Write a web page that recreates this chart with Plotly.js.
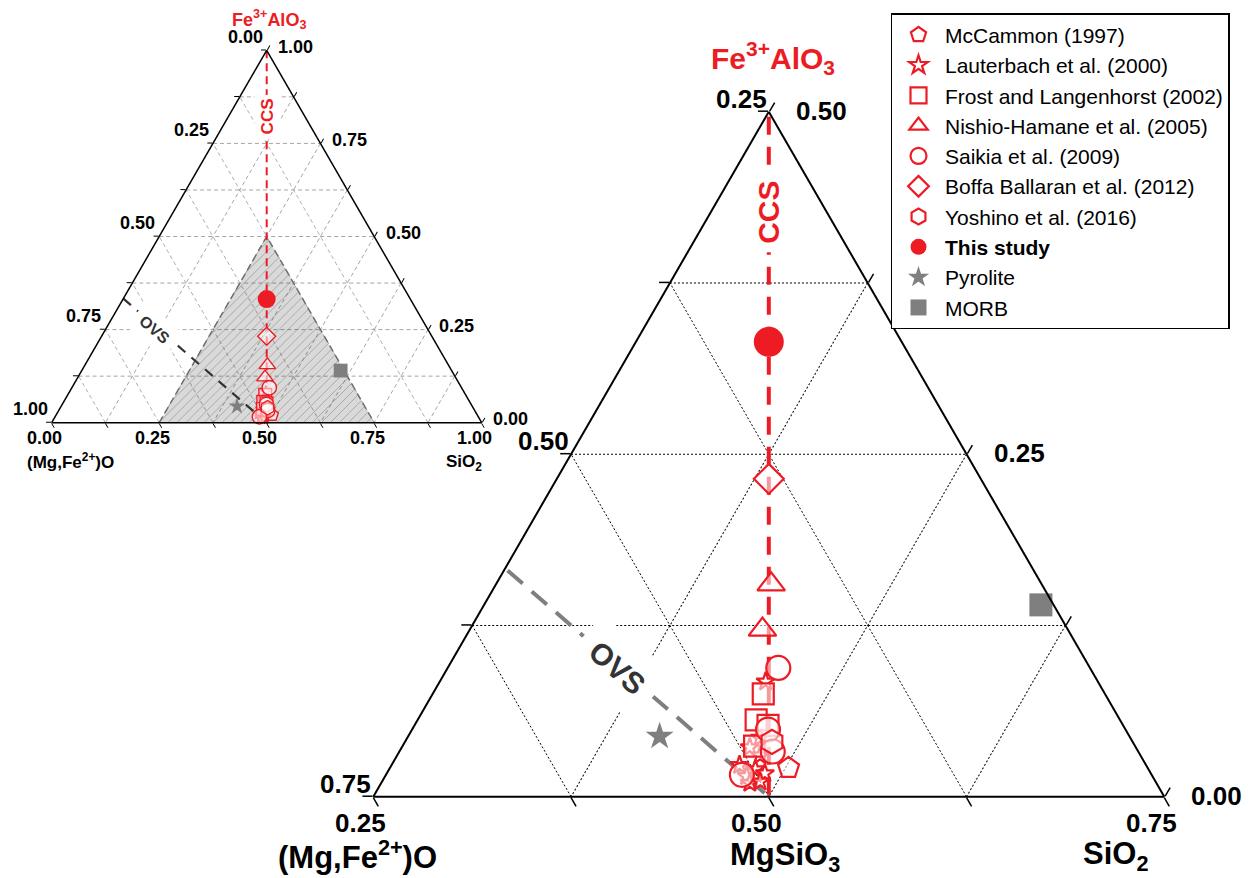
<!DOCTYPE html>
<html><head><meta charset="utf-8">
<script src="https://cdn.plot.ly/plotly-3.0.1.min.js"></script>
<style>html,body{margin:0;padding:0;background:#fff}#chart{width:1254px;height:878px}</style>
</head><body><div id="chart"></div>
<script>
// ternary fractions: a = Fe3+AlO3, b = (Mg,Fe2+)O, c = SiO2
const mcA = [0.021], mcB = [0.477], mcC = [0.502];                       // McCammon (1997)
const laA = [0.084,0.043,0.036,0.030,0.023,0.020,0.017,0.015,0.010,0.011]; // Lauterbach et al. (2000)
const laB = [0.460,0.484,0.494,0.490,0.507,0.499,0.494,0.507,0.507,0.500];
const laC = [0.456,0.473,0.470,0.479,0.470,0.482,0.489,0.479,0.483,0.489];
const frA = [0.075,0.056,0.052,0.037];                                    // Frost and Langenhorst (2002)
const frB = [0.466,0.480,0.474,0.491];
const frC = [0.459,0.464,0.473,0.473];
const niA = [0.155,0.122], niB = [0.421,0.443], niC = [0.424,0.435];      // Nishio-Hamane et al. (2005)
const saA = [0.094,0.049,0.033,0.016];                                    // Saikia et al. (2009)
const saB = [0.447,0.476,0.481,0.509];
const saC = [0.459,0.475,0.486,0.475];
const boA = [0.232], boB = [0.384], boC = [0.384];                        // Boffa Ballaran et al. (2012)
const yoA = [0.040], yoB = [0.478], yoC = [0.482];                        // Yoshino et al. (2016)
const tsA = [0.332], tsB = [0.334], tsC = [0.334];                        // This study
const pyA = [0.044], pyB = [0.547], pyC = [0.409];                        // Pyrolite
const moA = [0.140], moB = [0.258], moC = [0.602];                        // MORB
// joins
const ccsA = [1, 0], ccsB = [0, 0.5], ccsC = [0, 0.5];
const ovsA = [1/3, 0], ovsB = [2/3, 0.5], ovsC = [0, 0.5];
// region shown enlarged
const regA = [0, 0, 0.5, 0], regB = [0.75, 0.25, 0.25, 0.75], regC = [0.25, 0.75, 0.25, 0.25];
// grid / tick values and tick labels
const bigValsA = [0, 0.125, 0.25, 0.375, 0.5];
const bigValsBC = [0.25, 0.375, 0.5, 0.625, 0.75];
const bigLeftVals = [0, 0.25, 0.5],        bigLeftText = ['0.75', '0.50', '0.25'];   // at a = value on left edge
const bigRightVals = [0, 0.25, 0.5],       bigRightText = ['0.00', '0.25', '0.50'];  // at a = value on right edge
const bigBottomVals = [0.25, 0.5, 0.75],   bigBottomText = ['0.25', '0.50', '0.75']; // at c = value on bottom edge
const smVals = [0, 0.125, 0.25, 0.375, 0.5, 0.625, 0.75, 0.875, 1];
const smLeftVals = [0, 0.25, 0.5, 0.75, 1],   smLeftText = ['1.00', '0.75', '0.50', '0.25', '0.00'];
const smRightVals = [0, 0.25, 0.5, 0.75, 1],  smRightText = ['0.00', '0.25', '0.50', '0.75', '1.00'];
const smBottomVals = [0, 0.25, 0.5, 0.75, 1], smBottomText = ['0.00', '0.25', '0.50', '0.75', '1.00'];

const RED = '#ED1C24';
const FONT = 'Arial, "Liberation Sans", sans-serif';
const W = 1254, H = 878;
const px = v => v / W, py = v => 1 - v / H;

// triangle frames (pixel placement of each ternary subplot)
const BIG = {x0: 373.3, x1: 1164.3, yb: 796.7, amin: 0, bmin: 0.25, cmin: 0.25};
const SM  = {x0: 51.7,  x1: 481.7,  yb: 422.7, amin: 0, bmin: 0,    cmin: 0};
[BIG, SM].forEach(t => { t.w = t.x1 - t.x0; t.h = t.w * Math.sqrt(3) / 2; t.span = 1 - t.amin - t.bmin - t.cmin; });
function domainOf(t) {
  const cy = t.yb - t.h / 2, hh = t.h / 2 + 8;
  return {x: [px(t.x0), px(t.x1)], y: [py(cy + hh), py(cy - hh)]};
}
function toPix(t, a, c) {
  const ap = (a - t.amin) / t.span, cp = (c - t.cmin) / t.span;
  return [t.x0 + t.w * (cp + ap / 2), t.yb - t.h * ap];
}

// hatch lines for the shaded region
function hatch(step) {
  const s3 = Math.sqrt(3), m = 1, ytop = s3 / 4;
  const A = [], B = [], C = [];
  for (let x0 = 0.06; x0 <= 0.75; x0 += step) {
    const ylo = Math.max(0, (0.25 - x0) / (m - 1 / s3));
    const yhi = Math.min(ytop, (0.75 - x0) / (m + 1 / s3));
    if (yhi <= ylo) continue;
    [ylo, yhi].forEach(y => {
      const x = x0 + m * y, a = y * 2 / s3, c = x - a / 2;
      A.push(a); C.push(c); B.push(1 - a - c);
    });
    A.push(null); B.push(null); C.push(null);
  }
  return {A, B, C};
}
const h = hatch(0.021);

const fill = 'rgba(255,255,255,0.55)';
const series = [
  {name: 'McCammon (1997)', a: mcA, b: mcB, c: mcC, sym: 'pentagon', s: 22},
  {name: 'Lauterbach et al. (2000)', a: laA, b: laB, c: laC, sym: 'star', s: 14},
  {name: 'Frost and Langenhorst (2002)', a: frA, b: frB, c: frC, sym: 'square', s: 21},
  {name: 'Nishio-Hamane et al. (2005)', a: niA, b: niB, c: niC, sym: 'triangle-up', s: 24},
  {name: 'Saikia et al. (2009)', a: saA, b: saB, c: saC, sym: 'circle', s: 24},
  {name: 'Boffa Ballaran et al. (2012)', a: boA, b: boB, c: boC, sym: 'diamond', s: 23},
  {name: 'Yoshino et al. (2016)', a: yoA, b: yoB, c: yoC, sym: 'hexagon', s: 24},
  {name: '<b>This study</b>', a: tsA, b: tsB, c: tsC, sym: 'circle', s: 30, solid: RED},
  {name: 'Pyrolite', a: pyA, b: pyB, c: pyC, sym: 'star', s: 21, solid: '#7f7f7f'},
  {name: 'MORB', a: moA, b: moB, c: moC, sym: 'square', s: 23, solid: '#7f7f7f'}
];

const traces = [];
traces.push({type: 'scatterternary', subplot: 'ternary2', a: regA, b: regB, c: regC, mode: 'lines',
  fill: 'toself', fillcolor: 'rgba(0,0,0,0.15)', line: {color: '#6e6e6e', width: 1.5, dash: '7px,4px'},
  showlegend: false, hoverinfo: 'skip'});
traces.push({type: 'scatterternary', subplot: 'ternary2', a: h.A, b: h.B, c: h.C, mode: 'lines',
  line: {color: '#8a8a8a', width: 0.6}, connectgaps: false, showlegend: false, hoverinfo: 'skip'});
traces.push({type: 'scatterternary', subplot: 'ternary', a: ccsA, b: ccsB, c: ccsC, mode: 'lines',
  line: {color: RED, width: 4, dash: '18px,12px'}, showlegend: false, hoverinfo: 'skip'});
traces.push({type: 'scatterternary', subplot: 'ternary2', a: ccsA, b: ccsB, c: ccsC, mode: 'lines',
  line: {color: RED, width: 2, dash: '8px,5px'}, showlegend: false, hoverinfo: 'skip'});
traces.push({type: 'scatterternary', subplot: 'ternary', a: ovsA, b: ovsB, c: ovsC, mode: 'lines',
  line: {color: '#7f7f7f', width: 4, dash: '20px,12px'}, showlegend: false, hoverinfo: 'skip'});
traces.push({type: 'scatterternary', subplot: 'ternary2', a: ovsA, b: ovsB, c: ovsC, mode: 'lines',
  line: {color: '#333333', width: 2.2, dash: '10px,8px'}, showlegend: false, hoverinfo: 'skip'});

series.forEach((s, i) => {
  const mk = (size, lw) => s.solid
    ? {symbol: s.sym, size: size, color: s.solid, line: {width: 0}}
    : {symbol: s.sym, size: size, color: fill, line: {color: RED, width: lw}};
  traces.push({type: 'scatterternary', subplot: 'ternary', name: s.name, legendgroup: 'g' + i,
    a: s.a, b: s.b, c: s.c, mode: 'markers', marker: mk(s.s, 2.2), cliponaxis: false});
  traces.push({type: 'scatterternary', subplot: 'ternary2', name: s.name, legendgroup: 'g' + i,
    a: s.a, b: s.b, c: s.c, mode: 'markers', marker: mk(s.s * 0.6, 1.4), cliponaxis: false, showlegend: false});
});

function bigAxis(min, vals) {
  return {min: min, tickmode: 'array', tickvals: vals, showticklabels: false, ticks: 'outside', ticklen: 10,
    tickwidth: 1.5, tickcolor: '#000', showline: true, linecolor: '#000', linewidth: 2,
    showgrid: true, gridcolor: '#000', gridwidth: 1, griddash: '2px,2px', title: {text: ''}, layer: 'above traces'};
}
function smAxis() {
  return {min: 0, tickmode: 'array', tickvals: smVals, showticklabels: false, ticks: 'outside', ticklen: 5,
    tickwidth: 1, tickcolor: '#000', showline: true, linecolor: '#000', linewidth: 1.5,
    showgrid: true, gridcolor: '#9a9a9a', gridwidth: 0.8, griddash: '4px,3px', title: {text: ''}, layer: 'above traces'};
}

const ann = (x, y, text, size, color, extra) => Object.assign({
  xref: 'paper', yref: 'paper', x: px(x), y: py(y), text: text, showarrow: false,
  xanchor: 'center', yanchor: 'middle', font: {family: FONT, size: size, color: color, weight: 'bold'}
}, extra || {});

// tick-label annotations placed at the edge points of each triangle
const annotations = [];
function edgeLabels(t, size, off) {
  const L = t === BIG ? [bigLeftVals, bigLeftText, bigRightVals, bigRightText, bigBottomVals, bigBottomText]
                      : [smLeftVals, smLeftText, smRightVals, smRightText, smBottomVals, smBottomText];
  L[0].forEach((a, i) => { const p = toPix(t, a, t.cmin); annotations.push(ann(p[0] + off.l[0], p[1] + off.l[1], L[1][i], size, '#000')); });
  L[2].forEach((a, i) => { const p = toPix(t, a, 1 - a - t.bmin); annotations.push(ann(p[0] + off.r[0], p[1] + off.r[1], L[3][i], size, '#000')); });
  L[4].forEach((c, i) => { const p = toPix(t, t.amin, c); annotations.push(ann(p[0] + off.b[0], p[1] + off.b[1], L[5][i], size, '#000')); });
}
edgeLabels(BIG, 26, {l: [-27.5, -13], r: [52.5, -1], b: [-12.5, 26]});
edgeLabels(SM, 18, {l: [-21.5, -13.3], r: [29, -3.5], b: [-7, 15.5]});

annotations.push(
  ann(773, 58, 'Fe<sup>3+</sup>AlO<sub>3</sub>', 30, RED),
  ann(357, 855, '(Mg,Fe<sup>2+</sup>)O', 31, '#000'),
  ann(785, 857, 'MgSiO<sub>3</sub>', 31, '#000'),
  ann(1115, 856, 'SiO<sub>2</sub>', 31, '#000'),
  ann(269, 20, 'Fe<sup>3+</sup>AlO<sub>3</sub>', 18, RED),
  ann(70, 461, '(Mg,Fe<sup>2+</sup>)O', 17, '#000'),
  ann(464, 463, 'SiO<sub>2</sub>', 17, '#000'),
  ann(768.8, 212, 'CCS', 30, RED, {textangle: -90, bgcolor: '#fff', borderpad: 8}),
  ann(267.7, 116.7, 'CCS', 17, RED, {textangle: -90, bgcolor: '#fff', borderpad: 3}),
  ann(617, 667, 'OVS', 30, '#333', {textangle: 41.5, bgcolor: '#fff', borderpad: 14}),
  ann(154.5, 329, 'OVS', 16, '#333', {textangle: 41, bgcolor: '#fff', borderpad: 7})
);

const layout = {
  width: W, height: H, margin: {l: 0, r: 0, t: 0, b: 0},
  paper_bgcolor: '#fff', hovermode: false,
  ternary: {sum: 1, bgcolor: '#fff', domain: domainOf(BIG),
    aaxis: bigAxis(BIG.amin, bigValsA), baxis: bigAxis(BIG.bmin, bigValsBC), caxis: bigAxis(BIG.cmin, bigValsBC)},
  ternary2: {sum: 1, bgcolor: '#fff', domain: domainOf(SM),
    aaxis: smAxis(), baxis: smAxis(), caxis: smAxis()},
  legend: {x: px(890.7), y: py(13.3), xanchor: 'left', yanchor: 'top', bgcolor: '#fff',
    bordercolor: '#000', borderwidth: 1.3, tracegroupgap: 0, itemwidth: 43,
    font: {family: FONT, size: 21, color: '#000'}},
  annotations: annotations
};

Plotly.newPlot('chart', traces, layout, {displayModeBar: false, staticPlot: true});
</script></body></html>
